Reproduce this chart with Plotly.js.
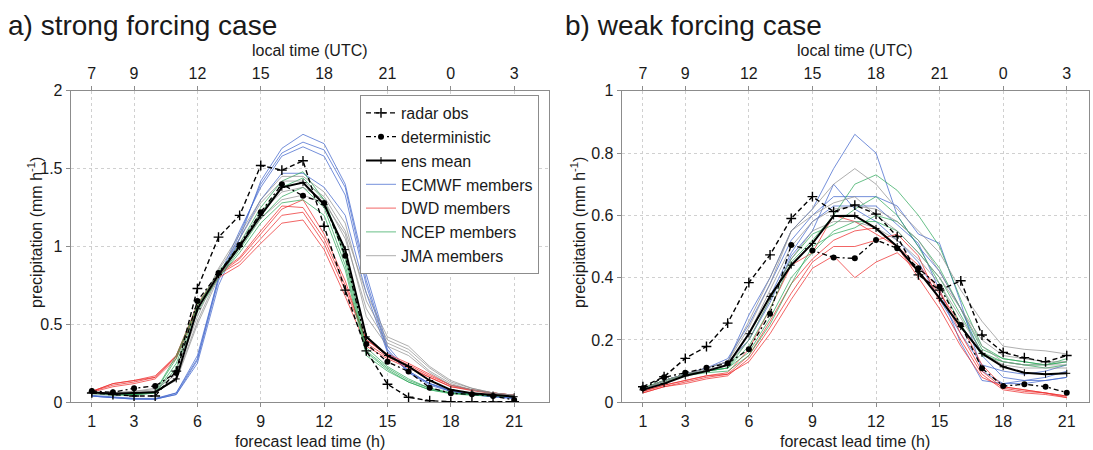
<!DOCTYPE html>
<html>
<head>
<meta charset="utf-8">
<script src="https://cdn.plot.ly/plotly-3.0.1.min.js"></script>
<style>html,body{margin:0;padding:0;background:#fff}#plot{width:1093px;height:450px}</style>
</head>
<body>
<div id="plot"></div>
<script>
// forecast lead time (h)
const leads = [1,2,3,4,5,6,7,8,9,10,11,12,13,14,15,16,17,18,19,20,21];
// top axis: local time (UTC)
const localTickLeads = [1,3,6,9,12,15,18,21];
const localTickText = ['7','9','12','15','18','21','0','3'];
const bottomTicks = [1,3,6,9,12,15,18,21];

// ---------- a) strong forcing case ----------
const radarA = [0.06,0.05,0.04,0.04,0.20,0.73,1.06,1.20,1.52,1.49,1.55,1.13,0.72,0.33,0.116,0.032,0.01,0.004,0.003,0.003,0.004];
const detA   = [0.073,0.064,0.09,0.105,0.19,0.65,0.83,1.01,1.22,1.40,1.325,1.28,0.94,0.375,0.26,0.197,0.094,0.058,0.051,0.04,0.015];
const meanA  = [0.065,0.055,0.06,0.065,0.15,0.60,0.82,1.00,1.20,1.38,1.41,1.27,0.98,0.42,0.30,0.23,0.14,0.08,0.058,0.047,0.036];
const ecmwfA = [
  [0.04,0.03,0.02,0.02,0.05,0.25,0.75,1.05,1.42,1.63,1.72,1.66,1.40,0.82,0.36,0.20,0.12,0.07,0.05,0.035,0.025],
  [0.04,0.03,0.025,0.02,0.05,0.27,0.78,1.08,1.40,1.60,1.67,1.62,1.38,0.78,0.34,0.19,0.11,0.07,0.05,0.035,0.025],
  [0.045,0.035,0.025,0.025,0.06,0.28,0.80,1.10,1.38,1.58,1.64,1.58,1.33,0.75,0.33,0.19,0.12,0.075,0.05,0.04,0.03],
  [0.04,0.03,0.02,0.02,0.06,0.30,0.80,1.05,1.30,1.47,1.47,1.38,1.20,0.70,0.32,0.20,0.12,0.08,0.055,0.04,0.03]
];
const dwdA = [
  [0.07,0.12,0.14,0.17,0.30,0.60,0.82,0.90,1.05,1.20,1.22,1.02,0.72,0.40,0.30,0.24,0.17,0.11,0.08,0.06,0.045],
  [0.07,0.11,0.13,0.16,0.29,0.62,0.82,0.92,1.08,1.24,1.30,1.08,0.78,0.38,0.29,0.23,0.16,0.10,0.08,0.06,0.045],
  [0.065,0.10,0.12,0.15,0.28,0.60,0.80,0.88,1.02,1.15,1.17,0.98,0.68,0.36,0.28,0.22,0.16,0.10,0.075,0.055,0.04],
  [0.07,0.12,0.14,0.16,0.30,0.63,0.83,0.93,1.10,1.26,1.25,1.05,0.75,0.40,0.31,0.25,0.18,0.11,0.08,0.06,0.045]
];
const ncepA = [
  [0.06,0.05,0.05,0.07,0.30,0.62,0.82,1.02,1.25,1.42,1.48,1.30,0.92,0.33,0.22,0.14,0.09,0.06,0.05,0.045,0.04],
  [0.06,0.05,0.05,0.06,0.25,0.60,0.80,0.98,1.18,1.32,1.38,1.25,0.88,0.32,0.21,0.13,0.08,0.06,0.05,0.045,0.04],
  [0.055,0.045,0.045,0.06,0.22,0.58,0.80,0.96,1.15,1.28,1.30,1.20,0.85,0.30,0.20,0.13,0.08,0.055,0.045,0.04,0.035],
  [0.06,0.05,0.05,0.07,0.28,0.62,0.84,1.00,1.22,1.38,1.44,1.30,0.95,0.35,0.23,0.15,0.09,0.06,0.05,0.045,0.04]
];
const jmaA = [
  [0.06,0.06,0.07,0.08,0.18,0.55,0.85,1.05,1.28,1.42,1.42,1.32,1.10,0.70,0.42,0.36,0.23,0.14,0.09,0.06,0.045],
  [0.06,0.06,0.06,0.07,0.15,0.52,0.82,1.02,1.22,1.35,1.38,1.30,1.05,0.60,0.38,0.32,0.20,0.12,0.08,0.06,0.045],
  [0.055,0.05,0.06,0.07,0.14,0.50,0.80,1.00,1.18,1.30,1.33,1.28,1.08,0.55,0.36,0.30,0.19,0.11,0.08,0.055,0.04],
  [0.06,0.06,0.07,0.09,0.20,0.58,0.86,1.08,1.30,1.45,1.45,1.35,1.15,0.65,0.40,0.34,0.22,0.13,0.09,0.06,0.045]
];

// ---------- b) weak forcing case ----------
const radarB = [0.05,0.082,0.141,0.179,0.254,0.384,0.473,0.59,0.66,0.612,0.633,0.604,0.532,0.409,0.36,0.39,0.216,0.16,0.143,0.13,0.15];
const detB   = [0.045,0.08,0.095,0.111,0.125,0.17,0.284,0.505,0.487,0.465,0.462,0.521,0.494,0.43,0.371,0.248,0.109,0.052,0.058,0.05,0.031];
const meanB  = [0.04,0.06,0.085,0.10,0.12,0.22,0.34,0.44,0.51,0.598,0.599,0.558,0.50,0.42,0.334,0.243,0.157,0.114,0.095,0.09,0.093];
const ecmwfB = [
  [0.04,0.07,0.09,0.11,0.13,0.28,0.40,0.55,0.62,0.75,0.86,0.80,0.60,0.50,0.42,0.30,0.15,0.08,0.07,0.07,0.08],
  [0.04,0.07,0.09,0.11,0.14,0.25,0.38,0.52,0.60,0.66,0.66,0.66,0.63,0.54,0.51,0.32,0.10,0.06,0.07,0.08,0.10],
  [0.04,0.07,0.09,0.10,0.12,0.22,0.34,0.48,0.58,0.63,0.63,0.63,0.57,0.51,0.36,0.19,0.07,0.06,0.06,0.07,0.08],
  [0.04,0.07,0.09,0.11,0.13,0.20,0.32,0.47,0.55,0.70,0.62,0.58,0.52,0.45,0.33,0.22,0.12,0.10,0.09,0.10,0.12]
];
const dwdB = [
  [0.03,0.05,0.065,0.08,0.09,0.13,0.22,0.33,0.43,0.47,0.40,0.45,0.48,0.42,0.35,0.25,0.12,0.05,0.04,0.03,0.02],
  [0.035,0.055,0.07,0.085,0.09,0.15,0.26,0.38,0.46,0.52,0.55,0.56,0.50,0.44,0.36,0.22,0.10,0.045,0.035,0.03,0.015],
  [0.03,0.05,0.06,0.075,0.085,0.14,0.24,0.35,0.45,0.50,0.50,0.52,0.54,0.47,0.32,0.20,0.09,0.04,0.03,0.025,0.015],
  [0.035,0.055,0.07,0.085,0.095,0.17,0.30,0.44,0.48,0.60,0.58,0.54,0.50,0.40,0.30,0.18,0.08,0.05,0.04,0.03,0.02]
];
const ncepB = [
  [0.045,0.07,0.09,0.10,0.11,0.18,0.30,0.45,0.52,0.60,0.70,0.73,0.68,0.60,0.50,0.33,0.18,0.14,0.13,0.12,0.13],
  [0.045,0.07,0.085,0.10,0.11,0.16,0.27,0.40,0.48,0.55,0.58,0.58,0.55,0.48,0.40,0.28,0.16,0.13,0.12,0.11,0.12],
  [0.04,0.065,0.085,0.095,0.10,0.15,0.25,0.38,0.50,0.54,0.56,0.60,0.58,0.52,0.43,0.30,0.17,0.14,0.13,0.12,0.13],
  [0.045,0.07,0.09,0.10,0.11,0.20,0.33,0.46,0.54,0.57,0.62,0.66,0.60,0.50,0.38,0.25,0.15,0.13,0.12,0.12,0.14]
];
const jmaB = [
  [0.04,0.07,0.09,0.11,0.13,0.24,0.38,0.55,0.62,0.70,0.75,0.70,0.62,0.55,0.48,0.36,0.26,0.18,0.17,0.165,0.155],
  [0.04,0.07,0.09,0.105,0.12,0.22,0.36,0.50,0.58,0.62,0.63,0.62,0.58,0.52,0.42,0.30,0.18,0.13,0.12,0.12,0.12],
  [0.04,0.065,0.085,0.10,0.12,0.20,0.33,0.46,0.55,0.58,0.58,0.56,0.52,0.46,0.38,0.27,0.16,0.12,0.11,0.11,0.11],
  [0.045,0.07,0.09,0.11,0.13,0.26,0.40,0.55,0.60,0.64,0.66,0.60,0.55,0.48,0.40,0.30,0.20,0.15,0.14,0.13,0.13]
];

const FONT = 'Liberation Sans, Arial, Helvetica, sans-serif';
const TXT = '#1a1a1a';
const centers = [
  {name:'ECMWF members', color:'rgba(70,105,205,0.75)', rank:4},
  {name:'DWD members',   color:'rgba(238,50,50,0.75)',  rank:5},
  {name:'NCEP members',  color:'rgba(40,165,85,0.7)',   rank:6},
  {name:'JMA members',   color:'rgba(140,140,140,0.7)', rank:7}
];

const traces = [];
function addPanel(xa, ya, members, radar, det, mean, legend) {
  members.forEach((set, ci) => {
    set.forEach((m, mi) => {
      traces.push({x: leads, y: m, xaxis: xa, yaxis: ya, type: 'scatter', mode: 'lines',
        line: {color: centers[ci].color, width: 1}, name: centers[ci].name,
        legendgroup: centers[ci].name, legendrank: centers[ci].rank,
        showlegend: legend && mi === 0, hoverinfo: 'skip'});
    });
  });
  traces.push({x: leads, y: mean, xaxis: xa, yaxis: ya, type: 'scatter', mode: 'lines+markers',
    name: 'ens mean', legendrank: 3, showlegend: legend,
    line: {color: '#000', width: 2}, marker: {symbol: 'cross-thin', size: 5, line: {color: '#000', width: 1}}});
  traces.push({x: leads, y: det, xaxis: xa, yaxis: ya, type: 'scatter', mode: 'lines+markers',
    name: 'deterministic', legendrank: 2, showlegend: legend,
    line: {color: '#000', width: 1.3, dash: '5px,3px,2px,3px'}, marker: {symbol: 'circle', size: 6, color: '#000'}});
  traces.push({x: leads, y: radar, xaxis: xa, yaxis: ya, type: 'scatter', mode: 'lines+markers',
    name: 'radar obs', legendrank: 1, showlegend: legend,
    line: {color: '#000', width: 1.4, dash: '5px,3px'}, marker: {symbol: 'cross-thin', size: 7, line: {color: '#000', width: 1.4}}});
}
addPanel('x', 'y', [ecmwfA, dwdA, ncepA, jmaA], radarA, detA, meanA, true);
addPanel('x2', 'y2', [ecmwfB, dwdB, ncepB, jmaB], radarB, detB, meanB, false);
// empty carriers so that the top (local time) axes get drawn
traces.push({x: localTickLeads, y: localTickLeads.map(() => null), xaxis: 'x3', yaxis: 'y',
  type: 'scatter', mode: 'lines', showlegend: false, hoverinfo: 'skip'});
traces.push({x: localTickLeads, y: localTickLeads.map(() => null), xaxis: 'x4', yaxis: 'y2',
  type: 'scatter', mode: 'lines', showlegend: false, hoverinfo: 'skip'});

const W = 1093, H = 450;
const yDom = [(H - 402.3) / H, (H - 90.7) / H];
const xDomA = [70.7 / W, 549 / W];
const xDomB = [621.7 / W, 1089 / W];
const rangeA = [0, 22.65];
const rangeB = [0, 22.05];

const axBase = {
  showline: true, linecolor: '#8c8c8c', linewidth: 1, mirror: true,
  ticks: 'outside', ticklen: 4, tickcolor: '#8c8c8c',
  showgrid: true, gridcolor: '#d0d0d0', griddash: 'dot', gridwidth: 1,
  zeroline: false, tickfont: {family: FONT, size: 16, color: TXT}, fixedrange: true
};
function xBottom(dom, rng, anchor) {
  return Object.assign({}, axBase, {domain: dom, range: rng, anchor: anchor,
    tickmode: 'array', tickvals: bottomTicks, ticktext: bottomTicks.map(String)});
}
function xTop(dom, rng, over, anchor) {
  return Object.assign({}, axBase, {domain: dom, range: rng, overlaying: over, anchor: anchor, side: 'top',
    showgrid: false, mirror: false, tickmode: 'array', tickvals: localTickLeads, ticktext: localTickText});
}
function yAx(rng, dtick, anchor) {
  return Object.assign({}, axBase, {domain: yDom, range: rng, dtick: dtick, tick0: 0, anchor: anchor});
}

const ann = [];
function txt(s, x, y, size, opts) {
  ann.push(Object.assign({text: s, x: x / W, y: 1 - y / H, xref: 'paper', yref: 'paper',
    showarrow: false, font: {family: FONT, size: size, color: TXT}, xanchor: 'center', yanchor: 'middle'}, opts || {}));
}
txt('a) strong forcing case', 6, 25, 28, {xanchor: 'left'});
txt('b) weak forcing case', 563, 25, 28, {xanchor: 'left'});
txt('local time (UTC)', 310, 51, 16);
txt('local time (UTC)', 855, 51, 16);
txt('forecast lead time (h)', 310, 441, 16);
txt('forecast lead time (h)', 855, 441, 16);
txt('precipitation (mm h<sup>-1</sup>)', 35, 233, 16, {textangle: -90});
txt('precipitation (mm h<sup>-1</sup>)', 578, 233, 16, {textangle: -90});

const layout = {
  width: W, height: H, margin: {l: 0, r: 0, t: 0, b: 0},
  paper_bgcolor: '#fff', plot_bgcolor: '#fff', showlegend: true,
  font: {family: FONT, color: TXT},
  xaxis: xBottom(xDomA, rangeA, 'y'),
  yaxis: yAx([0, 2], 0.5, 'x'),
  xaxis2: xBottom(xDomB, rangeB, 'y2'),
  yaxis2: yAx([0, 1], 0.2, 'x2'),
  xaxis3: xTop(xDomA, rangeA, 'x', 'y'),
  xaxis4: xTop(xDomB, rangeB, 'x2', 'y2'),
  legend: {x: 360 / W, y: 1 - 95 / H, xanchor: 'left', yanchor: 'top',
    bgcolor: '#fff', bordercolor: '#8c8c8c', borderwidth: 1,
    font: {family: FONT, size: 16, color: TXT}, itemwidth: 30, tracegroupgap: 0,
    traceorder: 'normal'},
  annotations: ann
};
Plotly.newPlot('plot', traces, layout, {staticPlot: true, displayModeBar: false});
</script>
</body>
</html>
